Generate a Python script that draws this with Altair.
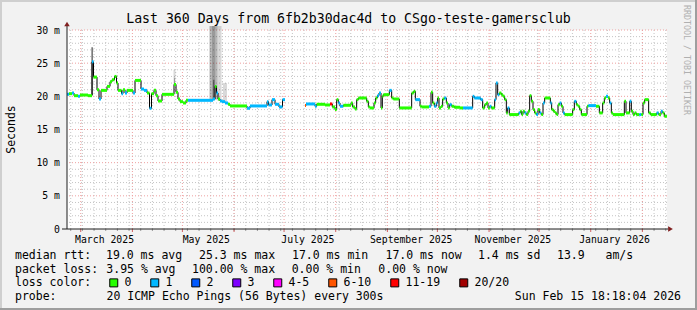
import altair as alt
import pandas as pd
from datetime import datetime, timedelta

# ---------------- data ----------------
START = datetime(2025, 2, 20, 18, 18, 4)
SPAN_DAYS = 360

LOSS_LABELS = ["0", "1", "2", "3", "4-5", "6-10", "11-19", "20/20"]
LOSS_COLORS = ["#26ff00", "#00b8ff", "#0059ff", "#7e00ff", "#ff00ff", "#ff5500", "#ff0000", "#a10000"]

# first block of median values (days since start, ms, loss class index)
P1_DAY = [0.0, 1.2, 3.0, 4.2, 6.6, 7.8, 12.6, 15.0, 15.9, 18.0,
          19.2, 20.4, 24.0, 25.8, 27.0, 28.5, 29.7, 30.6, 32.7, 33.6,
          34.8, 36.0, 39.6, 40.8, 44.4, 46.2, 48.0, 49.5, 50.7, 52.2,
          53.4, 54.6, 57.0, 64.2, 65.4, 66.6, 67.8, 69.6, 71.4, 72.6,
          87.6, 88.8, 89.7, 90.6, 91.8, 93.0, 94.8, 96.6, 97.8, 108.0,
          109.8, 120.0, 120.9, 123.0, 124.8, 127.2, 129.3]
P1_MS = [20.3, 20.4, 20.5, 20.1, 20.0, 20.2, 20.1, 25.2, 22.9, 21.0,
         19.6, 20.9, 21.5, 22.2, 22.5, 23.0, 22.0, 20.9, 20.4, 21.0,
         20.5, 20.9, 20.5, 22.4, 21.1, 20.9, 20.5, 18.2, 20.4, 20.9,
         20.1, 19.3, 20.3, 21.8, 20.6, 19.6, 19.2, 19.0, 19.4, 19.4,
         19.6, 21.5, 20.5, 19.6, 19.3, 19.2, 19.0, 18.8, 18.55, 18.2,
         18.55, 19.2, 18.7, 19.5, 18.8, 18.4, 19.5]
P1_LOSS = [1, 0, 1, 0, 1, 0, 0, 1, 0, 0,
           1, 0, 0, 0, 0, 0, 0, 0, 1, 0,
           1, 0, 1, 0, 1, 1, 0, 1, 0, 0,
           0, 0, 0, 0, 0, 0, 0, 0, 0, 1,
           1, 0, 1, 0, 1, 1, 1, 0, 0, 1,
           1, 1, 1, 1, 1, 1, 1]
P1_END = 130.8

# second block (after the data gap)
P2_DAY = [142.8, 143.4, 148.8, 149.8, 154.8, 157.8, 159.2, 160.8, 161.8, 162.8,
          163.8, 165.8, 170.4, 171.4, 172.8, 173.8, 174.8, 179.8, 180.8, 181.8,
          184.2, 185.2, 186.2, 187.2, 188.4, 189.2, 189.8, 193.4, 194.8, 195.8,
          199.4, 206.8, 208.0, 209.0, 211.8, 212.8, 217.2, 218.4, 219.4, 220.4,
          221.6, 222.4, 223.2, 224.4, 225.4, 226.4, 227.6, 228.6, 229.6, 230.8,
          232.4, 235.8, 237.6, 243.4, 244.4, 248.2, 249.4, 250.6, 251.6, 252.6,
          253.6, 254.6, 256.6, 257.4, 258.4, 259.4, 260.6, 261.6, 262.6, 263.6,
          264.4, 265.4, 271.0, 272.0, 272.8, 273.6, 274.6, 275.6, 276.6, 277.6,
          278.6, 279.6, 280.6, 281.6, 282.6, 283.6, 284.6, 285.6, 286.6, 290.0,
          290.8, 291.8, 292.8, 293.8, 294.6, 295.6, 296.6, 297.6, 298.6, 303.4,
          304.4, 305.6, 306.6, 307.6, 308.6, 312.0, 312.8, 317.4, 319.4, 321.4,
          322.4, 323.4, 324.6, 325.6, 326.6, 327.6, 334.4, 335.4, 337.6, 338.6,
          339.6, 340.6, 341.6, 343.4, 344.6, 345.6, 346.6, 349.0, 350.2, 353.8,
          355.0, 356.4, 357.4, 358.4]
P2_MS = [18.6, 18.85, 18.5, 18.8, 18.7, 18.85, 18.4, 18.0, 19.5, 19.0,
         18.5, 18.65, 19.0, 18.4, 18.1, 19.5, 19.75, 19.25, 18.4, 18.25,
         19.0, 19.75, 20.1, 20.5, 18.25, 20.0, 20.25, 20.9, 19.75, 19.6,
         18.25, 20.5, 20.75, 19.5, 18.5, 18.4, 18.5, 20.6, 19.0, 18.5,
         19.0, 19.75, 18.25, 18.5, 19.6, 19.75, 19.0, 18.25, 18.75, 18.5,
         18.35, 18.25, 18.25, 20.0, 19.75, 19.5, 18.25, 18.75, 19.0, 18.25,
         18.5, 18.25, 19.5, 22.0, 20.25, 20.5, 20.25, 20.0, 19.5, 17.5,
         18.25, 17.25, 17.5, 17.75, 17.25, 17.75, 17.5, 17.25, 17.75, 20.1,
         19.25, 18.0, 17.5, 17.25, 18.0, 17.5, 17.25, 19.0, 19.75, 19.0,
         18.0, 17.75, 17.5, 17.25, 18.75, 19.0, 18.5, 17.5, 17.25, 18.0,
         19.25, 18.75, 18.5, 18.0, 17.25, 18.5, 18.6, 18.5, 17.5, 19.0,
         19.75, 20.0, 19.75, 19.0, 17.5, 17.25, 19.25, 17.5, 19.25, 17.75,
         17.25, 17.5, 17.25, 17.25, 17.25, 19.0, 19.5, 17.5, 17.25, 17.5,
         17.25, 17.75, 17.5, 17.0]
P2_LOSS = [5, 1, 1, 0, 0, 6, 0, 0, 0, 1,
           1, 0, 0, 0, 0, 0, 0, 0, 0, 0,
           0, 0, 1, 1, 0, 0, 0, 1, 0, 0,
           0, 0, 0, 1, 0, 0, 1, 0, 0, 1,
           1, 0, 0, 0, 0, 1, 0, 0, 1, 0,
           0, 0, 1, 1, 1, 1, 0, 0, 0, 0,
           1, 0, 1, 1, 1, 0, 0, 0, 0, 0,
           1, 0, 1, 0, 0, 0, 1, 0, 0, 0,
           0, 0, 0, 1, 0, 1, 0, 1, 0, 1,
           0, 0, 0, 0, 0, 1, 0, 1, 0, 0,
           1, 0, 0, 0, 0, 0, 1, 0, 0, 0,
           0, 1, 0, 1, 0, 0, 0, 0, 1, 0,
           0, 0, 0, 1, 0, 0, 0, 0, 0, 1,
           0, 1, 0, 0]
P2_END = 360.0

# smoke (ping spread): start day, end day, low ms, high ms, density level
SMOKE_START = [14.6, 63.9, 64.2, 85.5, 87.0, 87.6, 89.1, 90.3, 93.6]
SMOKE_END = [15.6, 65.1, 64.8, 87.0, 89.1, 88.5, 90.3, 92.7, 96.0]
SMOKE_LO = [20.2, 21.8, 21.8, 19.5, 19.5, 19.6, 19.5, 19.3, 19.2]
SMOKE_HI = [27.4, 24.0, 22.8, 30.6, 30.6, 22.5, 30.6, 30.6, 22.0]
SMOKE_LEVEL = [4, 1, 2, 2, 3, 3, 2, 1, 1]

Y_TICKS = [0, 5, 10, 15, 20, 25, 30]
X_LABEL_MONTHS = [(2025, 3, "March 2025"), (2025, 5, "May 2025"), (2025, 7, "July 2025"),
                  (2025, 9, "September 2025"), (2025, 11, "November 2025"), (2026, 1, "January 2026")]

TITLE = "Last 360 Days from 6fb2b30dac4d to CSgo-teste-gamersclub"

# ---------------- helpers ----------------
assert len(P1_DAY) == len(P1_MS) == len(P1_LOSS)
assert len(P2_DAY) == len(P2_MS) == len(P2_LOSS)


def dday(dt):
    return (dt - START).total_seconds() / 86400.0


seg_rows, line_rows = [], []
for part, (days, ms, loss, end) in enumerate([(P1_DAY, P1_MS, P1_LOSS, P1_END),
                                              (P2_DAY, P2_MS, P2_LOSS, P2_END)]):
    for i in range(len(days)):
        e = days[i + 1] if i + 1 < len(days) else end
        seg_rows.append({"start": days[i], "end": e, "ms": ms[i], "loss": LOSS_LABELS[loss[i]]})
        line_rows.append({"d": days[i], "ms": ms[i], "part": part})
    line_rows.append({"d": end, "ms": ms[-1], "part": part})
seg_df = pd.DataFrame(seg_rows)
line_df = pd.DataFrame(line_rows)

smoke_df = pd.DataFrame({"start": SMOKE_START, "end": SMOKE_END, "lo": SMOKE_LO,
                         "hi": SMOKE_HI, "level": SMOKE_LEVEL})

# grid positions (dates -> days)
month_days, week_days = [], []
y, m = 2025, 3
while True:
    dt = datetime(y, m, 1)
    if dday(dt) > SPAN_DAYS:
        break
    month_days.append(dday(dt))
    m += 1
    if m > 12:
        m, y = 1, y + 1
dt = datetime(2025, 2, 23)  # first Sunday
while dday(dt) <= SPAN_DAYS:
    week_days.append(dday(dt))
    dt += timedelta(days=7)
month_df = pd.DataFrame({"d": month_days})
week_df = pd.DataFrame({"d": week_days})
hmajor_df = pd.DataFrame({"v": [v for v in range(5, 31, 5)]})
hminor_df = pd.DataFrame({"v": [v for v in range(1, 30) if v % 5]})

label_days = [dday(datetime(yy, mm, 15)) for yy, mm, _ in X_LABEL_MONTHS]
expr = "''"
for dd, (_, _, name) in reversed(list(zip(label_days, X_LABEL_MONTHS))):
    expr = f"datum.value < {dd + 5:.3f} ? '{name}' : ({expr})"

# ---------------- styling ----------------
MONO = "DejaVu Sans Mono"
OX, OY = 67, 30          # plot origin in page pixels
W, H = 600, 199
GRID = "#c4c4c4"
MGRID = "#eea0a0"
ARROW = "#801f1f"
AXIS = "#1f1f1f"

XS = alt.Scale(domain=[0, SPAN_DAYS], nice=False, zero=False)
YS = alt.Scale(domain=[0, 30], nice=False)
XAXIS = alt.Axis(values=label_days, labelExpr=expr, grid=False, domain=False, ticks=False,
                 tickSize=0, labelPadding=5, labelFont=MONO, labelFontSize=9.8, labelColor="#000",
                 labelFlush=False, labelOverlap=False, labelBaseline="top", title=None)
YAXIS = alt.Axis(values=Y_TICKS, labelExpr="datum.value == 0 ? '0' : datum.value + ' m'",
                 grid=False, domain=False, ticks=False, tickSize=0, labelPadding=7.5,
                 labelFont=MONO, labelFontSize=9.8, labelColor="#000", labelFlush=False,
                 labelOverlap=False, title=None)


def X(f):
    return alt.X(f, type="quantitative", scale=XS, axis=XAXIS, title=None)


def Y(f):
    return alt.Y(f, type="quantitative", scale=YS, axis=YAXIS, title=None)


DUMMY = pd.DataFrame({"k": [0]})


def text(txt, x, y, size=11.5, align="left", angle=0, color="#000", baseline="alphabetic"):
    return alt.Chart(DUMMY).mark_text(text=txt, align=align, baseline=baseline, font=MONO,
                                      fontSize=size, angle=angle, color=color).encode(
        x=alt.value(x - OX), y=alt.value(y - OY))


def prule(x1, y1, x2, y2, color, width=1.0, dash=None):
    kw = dict(color=color, strokeWidth=width)
    if dash:
        kw["strokeDash"] = dash
    return alt.Chart(DUMMY).mark_rule(**kw).encode(
        x=alt.value(x1 - OX), x2=alt.value(x2 - OX), y=alt.value(y1 - OY), y2=alt.value(y2 - OY))


layers = []
# grid
layers.append(alt.Chart(hminor_df).mark_rule(color=GRID, strokeDash=[1, 2], strokeWidth=1).encode(y=Y("v")))
layers.append(alt.Chart(week_df).mark_rule(color=GRID, strokeDash=[1, 2], strokeWidth=1).encode(x=X("d")))
layers.append(alt.Chart(hmajor_df).mark_rule(color=MGRID, strokeDash=[1, 2], strokeWidth=1).encode(y=Y("v")))
layers.append(alt.Chart(month_df).mark_rule(color=MGRID, strokeDash=[1, 2], strokeWidth=1).encode(x=X("d")))
# ticks below x axis
layers.append(alt.Chart(week_df).mark_rule(color="#999999").encode(x=X("d"), y=alt.value(H), y2=alt.value(H + 2)))
layers.append(alt.Chart(month_df).mark_rule(color="#d06060").encode(x=X("d"), y=alt.value(H), y2=alt.value(H + 3)))

# smoke
layers.append(alt.Chart(smoke_df).mark_rect(color="#000000").encode(
    x=X("start"), x2="end", y=Y("lo"), y2="hi",
    opacity=alt.Opacity("level:Q", scale=alt.Scale(domain=[1, 4], range=[0.15, 0.52]), legend=None)))

# median step line
layers.append(alt.Chart(line_df).mark_line(interpolate="step-after", color="#000000", strokeWidth=1).encode(
    x=X("d"), y=Y("ms"), detail="part:N"))

# loss-coloured median segments
layers.append(alt.Chart(seg_df).mark_rect(height=3).encode(
    x=X("start"), x2="end", y=Y("ms"),
    fill=alt.Fill("loss:N", scale=alt.Scale(domain=LOSS_LABELS, range=LOSS_COLORS),
                  legend=alt.Legend(title="loss color:", orient="none", legendX=15 - OX, legendY=247,
                                    direction="horizontal", titleOrient="left", titleFont=MONO,
                                    titleFontSize=11.5, titleFontWeight="normal", titleColor="#000",
                                    titlePadding=16, titleBaseline="middle", labelFont=MONO,
                                    labelFontSize=11.5, labelColor="#000", labelOffset=5,
                                    columnPadding=16, symbolType="square", symbolSize=64,
                                    symbolStrokeColor="#000", symbolStrokeWidth=1, symbolOpacity=1,
                                    padding=0, labelLimit=200))))

# axis lines and arrows
layers.append(prule(62, 229, 668, 229, AXIS))
layers.append(prule(67, 229, 67, 26, AXIS))
layers.append(alt.Chart(DUMMY).mark_point(shape="triangle-up", filled=True, size=30, color=ARROW, opacity=1).encode(
    x=alt.value(67 - OX), y=alt.value(24 - OY)))
layers.append(alt.Chart(DUMMY).mark_point(shape="triangle-right", filled=True, size=30, color=ARROW, opacity=1).encode(
    x=alt.value(670.5 - OX), y=alt.value(229 - OY)))

# frame (3D shade)
layers.append(prule(0, 1, 697, 1, "#cfcfcf", 2))
layers.append(prule(1, 0, 1, 310, "#cfcfcf", 2))
layers.append(prule(0, 309, 697, 309, "#9e9e9e", 2))
layers.append(prule(696, 0, 696, 310, "#9e9e9e", 2))

# texts
layers.append(text(TITLE, 348.5, 23.3, size=13.2, align="center"))
layers.append(text("Seconds", 14.5, 129.5, size=11.5, align="center", angle=270))
layers.append(text("RRDTOOL / TOBI OETIKER", 686, 60, size=8.3, align="center", angle=90, color="#b0b0b0",
                   baseline="middle"))

L1, L2, L4 = 259, 272.7, 300
for t, x in [("median rtt:", 15), ("19.0 ms avg", 106), ("25.3 ms max", 199), ("17.0 ms min", 292),
             ("17.0 ms now", 385.5), ("1.4 ms sd", 478), ("13.9", 557), ("am/s", 605.5)]:
    layers.append(text(t, x, L1))
for t, x in [("packet loss:", 15), ("3.95 % avg", 106.3), ("100.00 % max", 192), ("0.00 % min", 291.7),
             ("0.00 % now", 378.3)]:
    layers.append(text(t, x, L2))
layers.append(text("probe:", 15, L4))
layers.append(text("20 ICMP Echo Pings (56 Bytes) every 300s", 106.5, L4))
layers.append(text("Sun Feb 15 18:18:04 2026", 681, L4, align="right"))

chart = alt.layer(*layers).properties(
    width=W, height=H,
    padding={"left": OX, "top": OY, "right": 697 - OX - W, "bottom": 310 - OY - H},
    autosize=alt.AutoSizeParams(type="none"),
    background="#f2f2f2",
).configure_view(stroke=None, fill="white")

chart.save("out.html", embed_options={"renderer": "svg", "actions": False})
